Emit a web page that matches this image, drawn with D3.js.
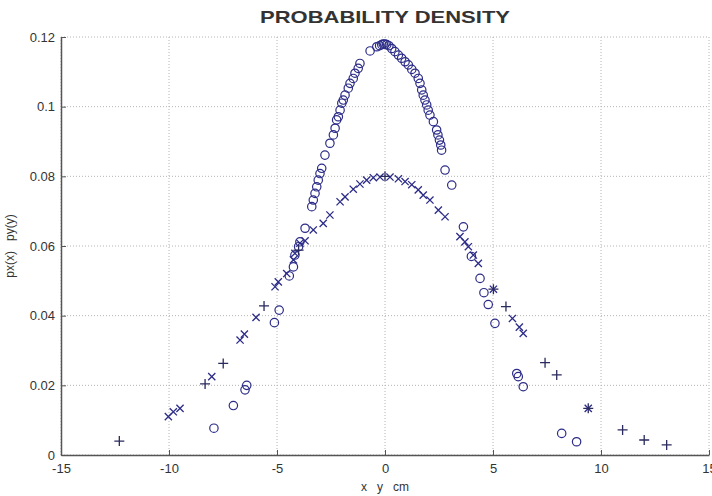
<!DOCTYPE html>
<html>
<head>
<meta charset="utf-8">
<script src="https://cdn.jsdelivr.net/npm/d3@7"></script>
<style>
  html, body { margin: 0; padding: 0; background: #fff; }
  svg { display: block; }
  text { font-family: "Liberation Sans", Arial, sans-serif; fill: #333; }
</style>
</head>
<body>
<svg id="chart" width="712" height="496"></svg>
<script>
// ---- data ----
const circleX = [-7.92,-7.02,-6.48,-6.40,-5.12,-4.90,-4.43,-4.24,-4.17,-4.00,-3.94,-3.70,-3.39,-3.32,-3.24,-3.16,-3.09,-3.01,-2.93,-2.78,-2.55,-2.39,-2.31,-2.24,-2.16,-2.08,-2.00,-1.93,-1.85,-1.70,-1.62,-1.47,-1.39,-1.24,-1.16,-0.69,-0.38,-0.25,-0.15,-0.08,
  0.00,0.08,0.18,0.31,0.46,0.62,0.77,0.93,1.08,1.24,1.39,1.54,1.62,1.70,1.77,1.85,1.93,2.00,2.08,2.24,2.39,2.45,2.52,2.58,2.62,2.78,3.09,3.63,4.00,4.40,4.58,4.78,5.09,6.10,6.17,6.40,8.18,8.87];
const circleY = [0.0077,0.0142,0.0187,0.0200,0.0380,0.0416,0.0514,0.0540,0.0574,0.0598,0.0612,0.0651,0.0713,0.0732,0.0751,0.0770,0.0789,0.0808,0.0823,0.0861,0.0895,0.0919,0.0938,0.0962,0.0971,0.0990,0.1010,0.1019,0.1033,0.1053,0.1067,0.1081,0.1096,0.1110,0.1124,0.1160,0.1172,0.1175,0.1178,0.1180,
  0.1180,0.1178,0.1175,0.1167,0.1158,0.1148,0.1139,0.1129,0.1120,0.1107,0.1096,0.1081,0.1067,0.1048,0.1033,0.1019,0.1005,0.0990,0.0976,0.0957,0.0933,0.0919,0.0904,0.0890,0.0875,0.0818,0.0775,0.0655,0.0570,0.0507,0.0466,0.0432,0.0378,0.0234,0.0225,0.0196,0.0062,0.0038];

const crossX = [-10.03,-9.80,-9.49,-8.02,-6.71,-6.51,-5.97,-5.09,-4.94,-4.55,-4.24,-4.17,-3.94,-3.70,-3.32,-2.86,-2.55,-2.08,-1.85,-1.47,-1.16,-0.85,-0.54,-0.23,
  0.23,0.62,0.93,1.24,1.54,1.77,2.08,2.47,2.78,3.47,3.70,3.86,4.09,4.32,5.02,5.90,6.22,6.40,9.41];
const crossY = [0.0110,0.0124,0.0134,0.0225,0.0330,0.0347,0.0395,0.0483,0.0497,0.0521,0.0560,0.0579,0.0608,0.0615,0.0646,0.0665,0.0689,0.0727,0.0741,0.0763,0.0778,0.0789,0.0796,0.0798,
  0.0798,0.0793,0.0785,0.0776,0.0761,0.0746,0.0732,0.0703,0.0684,0.0627,0.0612,0.0598,0.0574,0.0550,0.0476,0.0392,0.0367,0.0349,0.0134];

const plusX = [-12.30,-8.33,-7.49,-5.60,-4.00,0.00,5.02,5.60,7.41,7.95,9.41,11.00,12.00,13.04];
const plusY = [0.0040,0.0204,0.0263,0.0428,0.0588,0.0800,0.0476,0.0426,0.0265,0.0230,0.0134,0.0072,0.0043,0.0029];

const xTicks = [-15,-10,-5,0,5,10,15];
const yTicks = [0,0.02,0.04,0.06,0.08,0.1,0.12];
const yTickLabels = ["0","0.02","0.04","0.06","0.08","0.1","0.12"];
const titleText = "PROBABILITY DENSITY";
const xLabel = "x   y   cm";
const yLabel = "px(x)   py(y)";

// ---- drawing ----
const svg = d3.select("#chart");
const L = 61, R = 709, T = 37, B = 455;
const x = d3.scaleLinear().domain([-15, 15]).range([L, R]);
const y = d3.scaleLinear().domain([0, 0.12]).range([B, T]);
const markColor = "#2c2c88";

// grid
const grid = svg.append("g");
grid.selectAll("line.v").data(xTicks).join("line")
  .attr("x1", d => x(d)).attr("x2", d => x(d)).attr("y1", T).attr("y2", B)
  .attr("stroke", "#b4b4b4").attr("stroke-width", 1).attr("stroke-dasharray", "1,2");
grid.selectAll("line.h").data(yTicks).join("line")
  .attr("x1", L).attr("x2", R).attr("y1", d => y(d)).attr("y2", d => y(d))
  .attr("stroke", "#b4b4b4").attr("stroke-width", 1).attr("stroke-dasharray", "1,2");

// axes
const xAxis = d3.axisBottom(x).tickValues(xTicks).tickSizeInner(-5).tickSizeOuter(0).tickPadding(9)
  .tickFormat(d => String(d));
const gx = svg.append("g").attr("transform", `translate(0,${B})`).call(xAxis);
gx.select(".domain").attr("stroke", "#555").attr("stroke-width", 1.5);
gx.selectAll(".tick line").attr("stroke", "#555");
gx.selectAll(".tick text").attr("font-size", 13).attr("fill", "#333")
  .style("font-family", "'Liberation Sans', Arial, sans-serif");

const yAxis = d3.axisLeft(y).tickValues(yTicks).tickSizeInner(-5).tickSizeOuter(0).tickPadding(6)
  .tickFormat((d, i) => yTickLabels[i]);
const gy = svg.append("g").attr("transform", `translate(${L},0)`).call(yAxis);
gy.select(".domain").attr("stroke", "#555").attr("stroke-width", 1.5);
gy.selectAll(".tick line").attr("stroke", "#555");
gy.selectAll(".tick text").attr("font-size", 13).attr("fill", "#333")
  .style("font-family", "'Liberation Sans', Arial, sans-serif");

// circles
svg.append("g").selectAll("circle").data(d3.zip(circleX, circleY)).join("circle")
  .attr("cx", d => x(d[0])).attr("cy", d => y(d[1])).attr("r", 4.2)
  .attr("fill", "none").attr("stroke", markColor).attr("stroke-width", 1.2);

// crosses (x markers)
const s = 3.6;
svg.append("g").selectAll("path").data(d3.zip(crossX, crossY)).join("path")
  .attr("d", d => {
    const cx = x(d[0]), cy = y(d[1]);
    return `M${cx-s},${cy-s}L${cx+s},${cy+s}M${cx-s},${cy+s}L${cx+s},${cy-s}`;
  })
  .attr("stroke", markColor).attr("stroke-width", 1.3).attr("fill", "none");

// plus markers
const p = 5;
svg.append("g").selectAll("path").data(d3.zip(plusX, plusY)).join("path")
  .attr("d", d => {
    const cx = x(d[0]), cy = y(d[1]);
    return `M${cx-p},${cy}L${cx+p},${cy}M${cx},${cy-p}L${cx},${cy+p}`;
  })
  .attr("stroke", "#2a2a5e").attr("stroke-width", 1.3).attr("fill", "none");

// title & labels
svg.append("text").attr("x", 385).attr("y", 23).attr("text-anchor", "middle")
  .attr("font-size", 17).attr("font-weight", "bold").attr("fill", "#1a1a1a")
  .attr("textLength", 250).attr("lengthAdjust", "spacingAndGlyphs")
  .text(titleText);
svg.append("text").attr("x", 385).attr("y", 491).attr("text-anchor", "middle")
  .attr("font-size", 12).attr("fill", "#333")
  .style("white-space", "pre").text(xLabel);
svg.append("text").attr("transform", `translate(14,${(T + B) / 2}) rotate(-90)`)
  .attr("text-anchor", "middle").attr("font-size", 12).attr("fill", "#333")
  .style("white-space", "pre").text(yLabel);
</script>
</body>
</html>
